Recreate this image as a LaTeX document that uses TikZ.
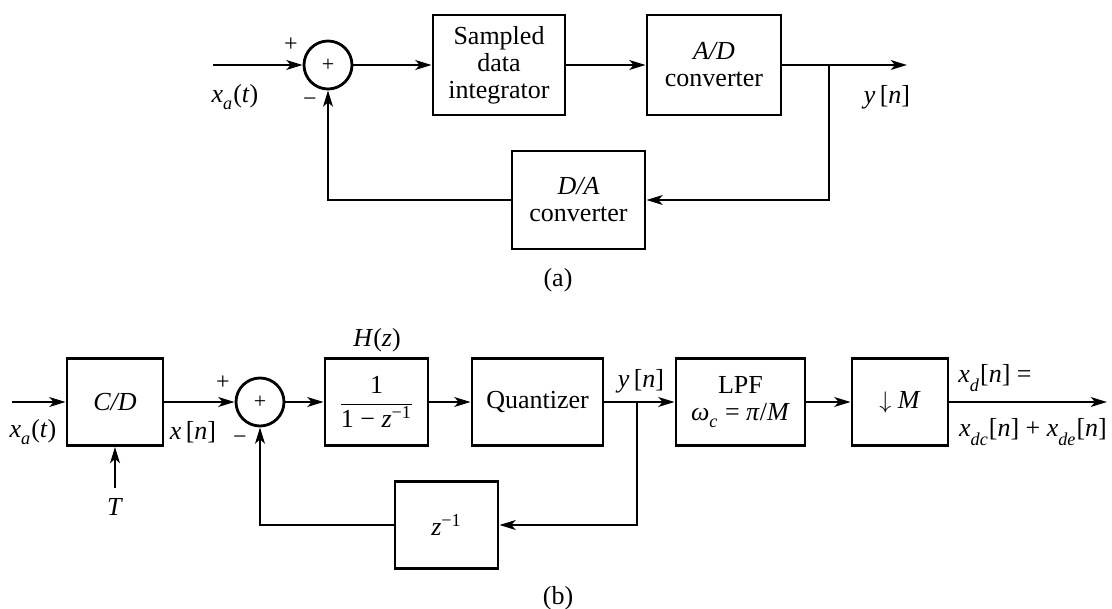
\documentclass[tikz,border=0pt]{standalone}
\usepackage{fontspec}
\setmainfont{Liberation Serif}
\usetikzlibrary{arrows.meta,calc}
\newcommand{\vv}[1]{\textit{#1}}
\newcommand{\sub}[1]{\raisebox{-0.35ex}{\textsubscript{\textit{#1}}}}
\begin{document}
\begin{tikzpicture}[x=0.5pt,y=-0.5pt,
  every node/.style={font=\fontsize{13}{13.5}\selectfont, inner sep=0pt},
  blk/.style={draw, line width=1.4pt, align=center, minimum height=#1},
  blk/.default=50pt,
  sumnode/.style={draw, circle, line width=1.4pt, minimum size=24pt, font=\fontsize{11}{11}\selectfont},
  conn/.style={line width=1.4pt, -{Stealth[length=8pt,width=4.8pt,inset=2pt]}},
  sgn/.style={font=\fontsize{12}{12}\selectfont}]
\useasboundingbox (0,0) rectangle (1112,609);
% ---------- (a) ----------
\node[sumnode] (s1) at (328,65) {+};
\node[blk, minimum width=66pt] (sdi) at (499,65) {Sampled\\data\\integrator};
\node[blk, minimum width=67pt] (ad) at (714,65) {\textit{A/D}\\converter};
\node[blk=49pt, minimum width=66.5pt] (da) at (578.5,200) {\textit{D/A}\\converter};
\coordinate (in1) at (213,65);
\coordinate (out1) at (907,65);
\coordinate (br1) at (829,65);
\draw[conn] (in1) -- (s1);
\draw[conn] (s1) -- (sdi);
\draw[conn] (sdi) -- (ad);
\draw[conn] (ad) -- (out1);
\draw[conn] (br1) |- (da);
\draw[conn] (da) -| (s1);
\node (xa1) at (235,97) {\vv{x}\sub{a}(\vv{t})};
\node[sgn] (p1) at (291,45) {+};
\node[sgn] (m1) at (310,102) {\textminus};
\node (y1) at (887,97) {\vv{y}\,[\vv{n}]};
\node (capa) at (558,280) {(a)};
% ---------- (b) ----------
\node[blk=43.5pt, minimum width=48pt] (cd) at (115,402) {\vv{C/D}};
\node[sumnode] (s2) at (260,402) {+};
\node[blk=43.5pt, minimum width=51.5pt] (hz) at (376.5,402) {$\displaystyle\frac{\hbox{1}}{\hbox{1 \textminus\ \vv{z}\textsuperscript{\textminus 1}}}$};
\node[blk=43.5pt, minimum width=65.5pt] (qz) at (537.5,402) {Quantizer};
\node[blk=43.5pt, minimum width=64.5pt] (lpf) at (740.5,402) {LPF\\\vv{ω}\sub{c} = \vv{π}/\vv{M}};
\node[blk=43.5pt, minimum width=48pt] (ds) at (900,402) {$\downarrow$ \vv{M}};
\node[blk=43.5pt, minimum width=51.5pt] (zd) at (446.5,525) {\vv{z}\textsuperscript{\textminus 1}};
\coordinate (in2) at (12,402);
\coordinate (out2) at (1107,402);
\coordinate (br2) at (637,402);
\coordinate (tin) at (115,488);
\draw[conn] (in2) -- (cd);
\draw[conn] (cd) -- (s2);
\draw[conn] (s2) -- (hz);
\draw[conn] (hz) -- (qz);
\draw[conn] (qz) -- (lpf);
\draw[conn] (lpf) -- (ds);
\draw[conn] (ds) -- (out2);
\draw[conn] (br2) |- (zd);
\draw[conn] (zd) -| (s2);
\draw[conn] (tin) -- (cd);
\node (xa2) at (33,432) {\vv{x}\sub{a}(\vv{t})};
\node (xn) at (193,432) {\vv{x}\,[\vv{n}]};
\node[sgn] (p2) at (223,383) {+};
\node[sgn] (m2) at (240,440) {\textminus};
\node (hl) at (377,340) {\vv{H}(\vv{z})};
\node (y2) at (641,381) {\vv{y}\,[\vv{n}]};
\node (xd) at (995,378) {\vv{x}\sub{d}[\vv{n}] =};
\node (xdd) at (1033,432) {\vv{x}\sub{dc}[\vv{n}] + \vv{x}\sub{de}[\vv{n}]};
\node (tl) at (115,507) {\vv{T}};
\node (capb) at (558,598) {(b)};
\end{tikzpicture}
\end{document}
